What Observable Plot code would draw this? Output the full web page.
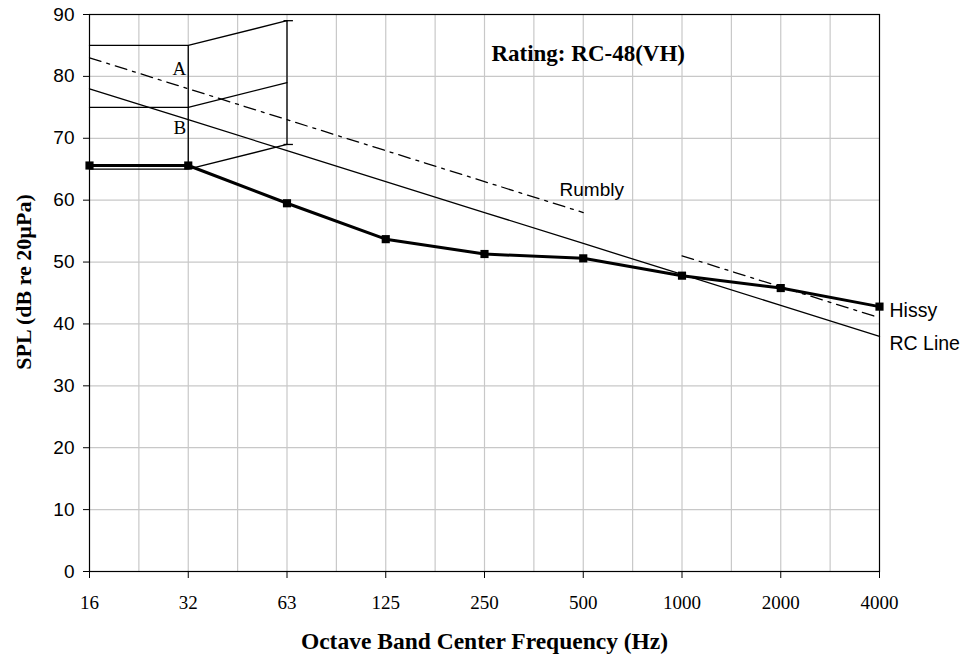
<!DOCTYPE html>
<html>
<head>
<meta charset="utf-8">
<script src="https://cdn.jsdelivr.net/npm/d3@7"></script>
<script src="https://cdn.jsdelivr.net/npm/@observablehq/plot@0.6"></script>
<style>
  html, body { margin: 0; padding: 0; background: #fff; }
  #chart { width: 966px; height: 661px; }
</style>
</head>
<body>
<div id="chart"></div>
<script>
// ---- data ----
const bands = ["16", "32", "63", "125", "250", "500", "1000", "2000", "4000"];
const measured = [65.6, 65.6, 59.5, 53.7, 51.3, 50.6, 47.8, 45.8, 42.8];
const rcLine = [78, 73, 68, 63, 58, 53, 48, 43, 38];
const rumblyBands = ["16", "32", "63", "125", "250", "500"];
const rumbly = [83, 78, 73, 68, 63, 58];
const hissyBands = ["1000", "2000", "4000"];
const hissy = [51, 46, 41];
// region A / B boundaries (16, 32, 63 Hz)
const regionBands = ["16", "32", "63"];
const regionUpper = [85, 85, 89];
const regionMid = [75, 75, 79];
const regionLower = [65, 65, 69];
const yTicks = [0, 10, 20, 30, 40, 50, 60, 70, 80, 90];
const ratingText = "Rating: RC-48(VH)";

// ---- helpers ----
const idx = b => bands.indexOf(b);
const series = (bs, vs) => bs.map((b, i) => ({x: idx(b), y: vs[i]}));

const measuredData = series(bands, measured);
const rcData = series(bands, rcLine);
const rumblyData = series(rumblyBands, rumbly);
const hissyData = series(hissyBands, hissy);
const upperData = series(regionBands, regionUpper);
const midData = series(regionBands, regionMid);
const lowerData = series(regionBands, regionLower);
const verticals = [1, 2].map(i => ({x: idx(regionBands[i]), y1: regionLower[i], y2: regionUpper[i]}));
const caps = [regionUpper[2], regionLower[2]].map(v => ({x1: idx(regionBands[2]) - 0.03, x2: idx(regionBands[2]) + 0.065, y: v}));

const serif = "'Liberation Serif', 'Times New Roman', Times, serif";
const sans = "'Liberation Sans', Arial, Helvetica, sans-serif";

const chart = Plot.plot({
  width: 966,
  height: 661,
  marginLeft: 89,
  marginRight: 87,
  marginTop: 14,
  marginBottom: 90,
  style: {background: "#fff", color: "#000", fontFamily: serif},
  x: {domain: [0, bands.length - 1], axis: null},
  y: {domain: [0, 90], axis: null},
  marks: [
    Plot.gridX(d3.range(0.5, bands.length - 1, 0.5), {stroke: "#c8c8c8", strokeOpacity: 1, strokeWidth: 1.2}),
    Plot.gridY(yTicks, {stroke: "#c8c8c8", strokeOpacity: 1, strokeWidth: 1.2}),
    Plot.axisY(yTicks, {tickSize: 6, tickPadding: 9, fontSize: 19, fontFamily: sans, label: null, stroke: "#000"}),
    Plot.axisX(d3.range(bands.length), {tickSize: 7, tickPadding: 17, fontSize: 19, fontFamily: serif, tickFormat: i => bands[i], label: null, stroke: "#000"}),
    // region A/B boundaries
    Plot.line(upperData, {x: "x", y: "y", stroke: "#000", strokeWidth: 1.3}),
    Plot.line(midData, {x: "x", y: "y", stroke: "#000", strokeWidth: 1.3}),
    Plot.line(lowerData, {x: "x", y: "y", stroke: "#000", strokeWidth: 1.3}),
    Plot.ruleX(verticals, {x: "x", y1: "y1", y2: "y2", stroke: "#000", strokeWidth: 1.3}),
    Plot.ruleY(caps, {x1: "x1", x2: "x2", y: "y", stroke: "#000", strokeWidth: 1.3}),
    Plot.text(["A"], {x: idx("32"), y: 81.2, text: d => d, textAnchor: "end", dx: -2, fontSize: 19, fontFamily: serif}),
    Plot.text(["B"], {x: idx("32"), y: 71.7, text: d => d, textAnchor: "end", dx: -2, fontSize: 19, fontFamily: serif}),
    // RC line
    Plot.line(rcData, {x: "x", y: "y", stroke: "#000", strokeWidth: 1.3}),
    // Rumbly / Hissy
    Plot.line(rumblyData, {x: "x", y: "y", stroke: "#000", strokeWidth: 1.3, strokeDasharray: "12,6,3,6"}),
    Plot.line(hissyData, {x: "x", y: "y", stroke: "#000", strokeWidth: 1.3, strokeDasharray: "12,6,3,6"}),
    // measured spectrum
    Plot.line(measuredData, {x: "x", y: "y", stroke: "#000", strokeWidth: 3}),
    Plot.dot(measuredData, {x: "x", y: "y", symbol: "square", r: 4.6, fill: "#000", stroke: "none"}),
    // frame
    Plot.frame({stroke: "#000", strokeWidth: 1.2}),
    // labels
    Plot.text([ratingText], {x: 5.05, y: 83.6, text: d => d, fontSize: 23, fontWeight: "bold", fontFamily: serif}),
    Plot.text(["Rumbly"], {x: 4.76, y: 61.6, text: d => d, textAnchor: "start", fontSize: 19, fontFamily: sans}),
    Plot.text(["Hissy"], {x: bands.length - 1, y: 42.1, text: d => d, textAnchor: "start", dx: 10, fontSize: 19.5, fontFamily: sans}),
    Plot.text(["RC Line"], {x: bands.length - 1, y: 36.8, text: d => d, textAnchor: "start", dx: 10, fontSize: 19.5, fontFamily: sans}),
    Plot.text(["Octave Band Center Frequency (Hz)"], {frameAnchor: "bottom", dy: 70, textAnchor: "middle", lineAnchor: "middle", text: d => d, fontSize: 23.5, fontWeight: "bold", fontFamily: serif}),
    Plot.text(["SPL (dB re 20µPa)"], {frameAnchor: "left", dx: -66, dy: -11, rotate: -90, textAnchor: "middle", lineAnchor: "middle", text: d => d, fontSize: 22, fontWeight: "bold", fontFamily: serif})
  ]
});

document.getElementById("chart").appendChild(chart);
</script>
</body>
</html>
